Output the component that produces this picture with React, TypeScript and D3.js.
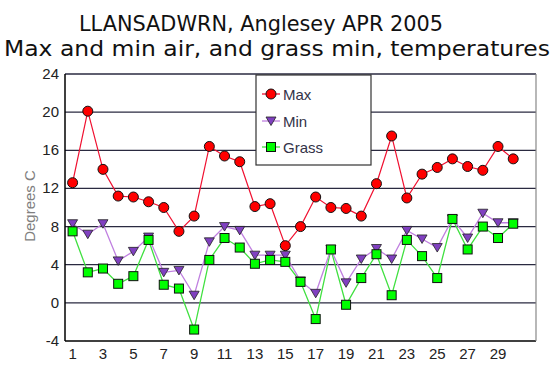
import React from "react";
import * as d3 from "d3";

const days = d3.range(1, 31);
const maxTemps = [12.6, 20.1, 14.0, 11.2, 11.1, 10.6, 10.0, 7.5, 9.1, 16.4, 15.4, 14.8, 10.1, 10.4, 6.0, 8.0, 11.1, 10.0, 9.9, 9.1, 12.5, 17.5, 11.0, 13.5, 14.2, 15.1, 14.3, 13.9, 16.4, 15.1];
const minTemps = [8.3, 7.2, 8.3, 4.4, 5.4, 6.9, 3.2, 3.4, 0.8, 6.4, 8.0, 7.6, 5.0, 5.0, 5.0, 2.3, 1.0, 5.6, 2.1, 4.6, 5.7, 4.6, 7.6, 6.7, 5.8, 8.8, 6.8, 9.4, 8.4, 8.4];
const grassTemps = [7.5, 3.2, 3.6, 2.0, 2.8, 6.6, 1.9, 1.5, -2.8, 4.5, 6.8, 5.8, 4.1, 4.5, 4.3, 2.2, -1.7, 5.6, -0.2, 2.6, 5.1, 0.8, 6.6, 4.9, 2.6, 8.8, 5.6, 8.0, 6.8, 8.3];
const yTicks = [-4, 0, 4, 8, 12, 16, 20, 24];
const xTickLabels = [1, 3, 5, 7, 9, 11, 13, 15, 17, 19, 21, 23, 25, 27, 29];
const titleLines = ["LLANSADWRN, Anglesey APR 2005", "Max and min air, and grass min, temperatures"];
const seriesNames = ["Max", "Min", "Grass"];

export default function App() {
  const left = 65, right = 536, top = 74, bottom = 341;
  const x = d3.scaleBand<number>().domain(d3.range(1, 32)).range([left, right]);
  const xc = (d: number) => (x(d) as number) + x.bandwidth() / 2;
  const y = d3.scaleLinear().domain([-4, 24]).range([bottom, top]);
  const line = (vals: number[]) =>
    d3.line<number>().x((_, i) => xc(days[i])).y((v) => y(v))(vals) as string;

  const tri = (cx: number, cy: number, s: number) =>
    `M${cx - s},${cy - s * 0.8}L${cx + s},${cy - s * 0.8}L${cx},${cy + s * 0.9}Z`;

  const font = "'Liberation Sans', Arial, sans-serif";
  const tfont = "'DejaVu Sans', Verdana, sans-serif";
  const legX = 256, legY = 75;
  const legRows = [94, 121, 147];

  return (
    <svg width={559} height={376} style={{ display: "block", position: "absolute", left: 0, top: 0 }}>
      <rect width={559} height={376} fill="#fff" />
      <text x={79} y={31} textLength={364} lengthAdjust="spacingAndGlyphs" fontFamily={tfont} fontSize={21} fill="#111">{titleLines[0]}</text>
      <text x={4} y={56} textLength={546} lengthAdjust="spacingAndGlyphs" fontFamily={tfont} fontSize={21} fill="#111">{titleLines[1]}</text>

      {yTicks.map((t) => (
        <g key={t}>
          <line x1={left} x2={right} y1={y(t)} y2={y(t)} stroke={t === -4 ? "#000" : "#2a2a40"} strokeWidth={1.3} />
          <text x={left - 6} y={y(t) + 5} textAnchor="end" fontFamily={font} fontSize={15} fill="#222">{t}</text>
        </g>
      ))}
      <line x1={left} x2={left} y1={top} y2={bottom} stroke="#000" strokeWidth={1.5} />
      <line x1={right} x2={right} y1={top} y2={bottom} stroke="#888" strokeWidth={1.2} />
      {xTickLabels.map((d) => (
        <text key={d} x={xc(d)} y={359} textAnchor="middle" fontFamily={font} fontSize={15} fill="#222">{d}</text>
      ))}
      <text transform={`translate(35,206) rotate(-90)`} textAnchor="middle" fontFamily={font} fontSize={15} fill="#808080">Degrees C</text>

      <path d={line(grassTemps)} fill="none" stroke="#40e040" strokeWidth={1.3} />
      <path d={line(minTemps)} fill="none" stroke="#c080e0" strokeWidth={1.3} />
      <path d={line(maxTemps)} fill="none" stroke="#f01030" strokeWidth={1.2} />

      {minTemps.map((v, i) => (
        <path key={"mi" + i} d={tri(xc(days[i]), y(v), 5)} fill="#8040c0" stroke="#222" strokeWidth={0.8} />
      ))}
      {grassTemps.map((v, i) => (
        <rect key={"g" + i} x={xc(days[i]) - 4.5} y={y(v) - 4.5} width={9} height={9} fill="#00ff00" stroke="#111" strokeWidth={1} />
      ))}
      {maxTemps.map((v, i) => (
        <circle key={"m" + i} cx={xc(days[i])} cy={y(v)} r={5} fill="#ff0000" stroke="#111" strokeWidth={1} />
      ))}

      <rect x={legX} y={legY} width={115} height={90} fill="#fff" stroke="#333" strokeWidth={1.2} />
      {seriesNames.map((n, i) => {
        const cy = legRows[i];
        const cx = 271;
        const colors = ["#f01030", "#c080e0", "#40e040"];
        return (
          <g key={n}>
            <line x1={262} x2={280} y1={cy} y2={cy} stroke={colors[i]} strokeWidth={1.3} />
            {i === 0 && <circle cx={cx} cy={cy} r={5} fill="#ff0000" stroke="#111" strokeWidth={1} />}
            {i === 1 && <path d={tri(cx, cy, 5)} fill="#8040c0" stroke="#222" strokeWidth={0.8} />}
            {i === 2 && <rect x={cx - 4.5} y={cy - 4.5} width={9} height={9} fill="#00ff00" stroke="#111" strokeWidth={1} />}
            <text x={283} y={cy + 5.5} fontFamily={font} fontSize={15} fill="#333348">{n}</text>
          </g>
        );
      })}
    </svg>
  );
}
